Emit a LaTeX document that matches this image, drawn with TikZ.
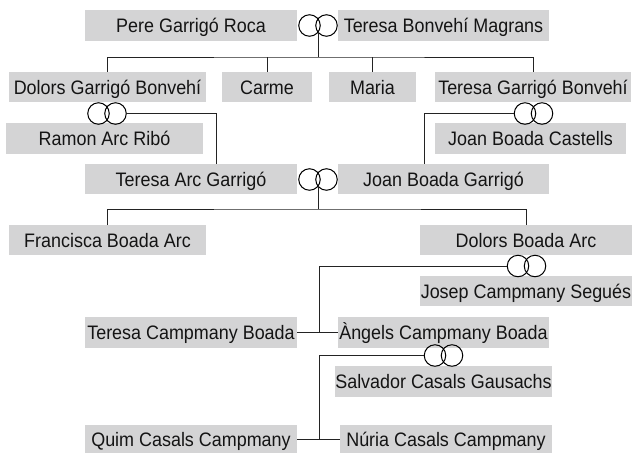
\documentclass[tikz,border=0pt]{standalone}
\usepackage{fontspec}
\setmainfont{Liberation Sans}[FakeStretch=0.92]
\definecolor{boxgray}{RGB}{212,212,213}
\definecolor{linegray}{RGB}{35,35,35}
\definecolor{txt}{RGB}{20,20,20}
\tikzset{
  pbox/.style={fill=boxgray, text=txt, inner sep=0pt, outer sep=0pt,
    minimum height=31pt, text height=14pt, text depth=0pt,
    font=\fontsize{19.5}{21}\selectfont},
  ringnode/.style={inner sep=0pt, outer sep=0pt, minimum width=38.5pt, minimum height=21.5pt},
  link/.style={draw=linegray, line width=0.9pt},
  ringline/.style={draw=black, line width=1pt},
}
\newcommand{\ringdraw}[1]{%
  \draw[ringline] ([xshift=-8.5pt]#1.center) circle (10.75pt);
  \draw[ringline] ([xshift=8.5pt]#1.center) circle (10.75pt);}
\begin{document}
\begin{tikzpicture}[x=1pt,y=-1pt]
\useasboundingbox[fill=white] (0,0) rectangle (632,453);

% generation 1
\node[pbox, minimum width=212pt] (pere) at (191,25.5) {Pere Garrigó Roca};
\node[pbox, minimum width=211pt] (tbm) at (443.5,25.5) {Teresa Bonvehí Magrans};
\node[ringnode] (rA) at (318,25.5) {};

% generation 2
\node[pbox, minimum width=197pt, minimum height=30pt] (dgb) at (107.5,87) {Dolors Garrigó Bonvehí};
\node[pbox, minimum width=90pt, minimum height=30pt] (carme) at (267,87) {Carme};
\node[pbox, minimum width=87pt, minimum height=30pt] (maria) at (372.5,87) {Maria};
\node[pbox, minimum width=196pt, minimum height=30pt] (tgb) at (533,87) {Teresa Garrigó Bonvehí};
\node[ringnode] (rB) at (107,113.5) {};
\node[ringnode] (rC) at (533.5,113.5) {};
\node[pbox, minimum width=197pt] (rar) at (104.5,138.5) {Ramon Arc Ribó};
\node[pbox, minimum width=191pt] (jbc) at (530.5,138.5) {Joan Boada Castells};

% generation 3
\node[pbox, minimum width=212pt, minimum height=30pt] (tag) at (191,179) {Teresa Arc Garrigó};
\node[pbox, minimum width=211pt, minimum height=30pt] (jbg) at (443.5,179) {Joan Boada Garrigó};
\node[ringnode] (rD) at (318,179.5) {};

% generation 4
\node[pbox, minimum width=197pt, minimum height=30pt] (fba) at (107.5,240) {Francisca Boada Arc};
\node[pbox, minimum width=212pt, minimum height=30pt] (dba) at (526,240) {Dolors Boada Arc};
\node[ringnode] (rE) at (526.5,266) {};
\node[pbox, minimum width=212pt, minimum height=30pt] (jcs) at (526,291) {Josep Campmany Segués};

% generation 5
\node[pbox, minimum width=212pt] (tcb) at (191,332.5) {Teresa Campmany Boada};
\node[pbox, minimum width=211pt] (acb) at (443.5,332.5) {Àngels Campmany Boada};
\node[ringnode] (rF) at (443.5,355.5) {};
\node[pbox, minimum width=211pt] (scg) at (443.5,381.5) {Salvador Casals Gausachs};

% generation 6
\node[pbox, minimum width=212pt, minimum height=28pt] (qcc) at (191,439) {Quim Casals Campmany};
\node[pbox, minimum width=212pt, minimum height=28pt] (ncc) at (446,439) {Núria Casals Campmany};

% rings
\ringdraw{rA}
\ringdraw{rB}
\ringdraw{rC}
\ringdraw{rD}
\ringdraw{rE}
\ringdraw{rF}

% connectors
\coordinate (barA) at (318,57);
\draw[link] ([yshift=-6.6pt]rA.center) -- (barA);
\draw[link] (dgb.north) |- (barA) -| (tgb.north);
\draw[link] (carme.north) -- (carme.north |- barA);
\draw[link] (maria.north) -- (maria.north |- barA);

\draw[link] (rB.east) -| ([xshift=25pt]tag.north);
\draw[link] (rC.west) -| ([xshift=-19.5pt]jbg.north);

\coordinate (barD) at (318,209);
\draw[link] ([yshift=-6.6pt]rD.center) -- (barD);
\draw[link] (fba.north) |- (barD) -| (dba.north);

\coordinate (jE) at (319,332.5);
\draw[link] (tcb.east) -- (acb.west);
\draw[link] (rE.west) -| (jE);

\coordinate (jF) at (319,439);
\draw[link] (qcc.east) -- (ncc.west);
\draw[link] (rF.west) -| (jF);
\end{tikzpicture}
\end{document}
